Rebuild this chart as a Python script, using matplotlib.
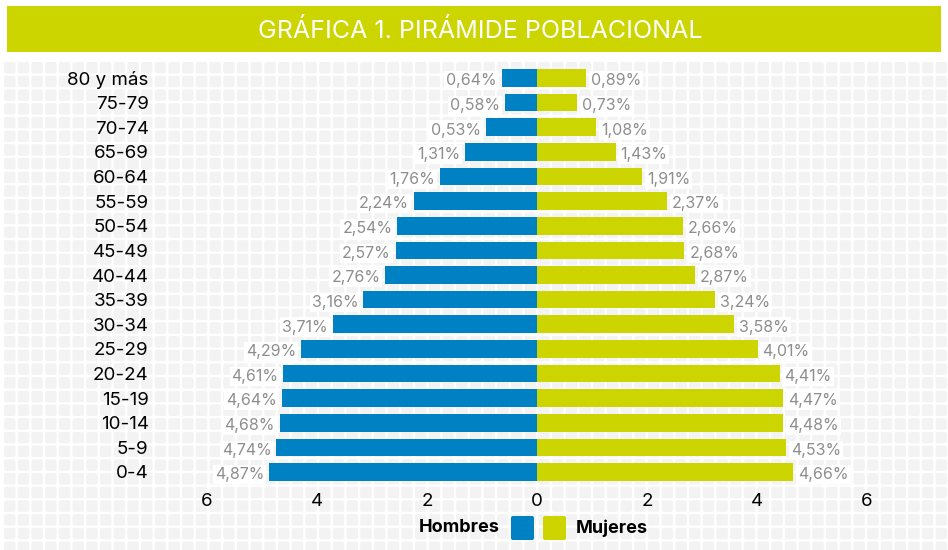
import matplotlib
matplotlib.use("Agg")
import matplotlib.pyplot as plt
from matplotlib.patches import FancyBboxPatch, Rectangle
from matplotlib.collections import PatchCollection

plt.rcParams['font.family'] = ['Inter', 'DejaVu Sans']

# ---- data ----
grupos = ["0-4", "5-9", "10-14", "15-19", "20-24", "25-29", "30-34", "35-39",
          "40-44", "45-49", "50-54", "55-59", "60-64", "65-69", "70-74", "75-79", "80 y más"]
# bar lengths as drawn in the picture
hombres = [4.87, 4.74, 4.68, 4.64, 4.61, 4.29, 3.71, 3.16,
           2.76, 2.57, 2.54, 2.24, 1.76, 1.31, 0.93, 0.58, 0.64]
mujeres = [4.66, 4.53, 4.48, 4.47, 4.41, 4.01, 3.58, 3.24,
           2.87, 2.68, 2.66, 2.37, 1.91, 1.43, 1.08, 0.73, 0.89]
# value labels as printed in the picture
etiquetas_hombres = ["4,87%", "4,74%", "4,68%", "4,64%", "4,61%", "4,29%", "3,71%", "3,16%",
                     "2,76%", "2,57%", "2,54%", "2,24%", "1,76%", "1,31%", "0,53%", "0,58%", "0,64%"]
etiquetas_mujeres = ["4,66%", "4,53%", "4,48%", "4,47%", "4,41%", "4,01%", "3,58%", "3,24%",
                     "2,87%", "2,68%", "2,66%", "2,37%", "1,91%", "1,43%", "1,08%", "0,73%", "0,89%"]
xticks = [-6, -4, -2, 0, 2, 4, 6]
xticklabels = ["6", "4", "2", "0", "2", "4", "6"]
titulo = "GRÁFICA 1. PIRÁMIDE POBLACIONAL"

AZUL = "#0081C3"
VERDE = "#CDD500"
GRIS = "#8E8E8E"

W, H = 948, 550
fig = plt.figure(figsize=(W / 100, H / 100), dpi=100)
fig.patch.set_facecolor("white")

def px(x0, y0, w, h):
    return [x0 / W, 1 - (y0 + h) / H, w / W, h / H]

# background grid of rounded squares
bg = fig.add_axes([0, 0, 1, 1], zorder=0)
bg.set_xlim(0, W)
bg.set_ylim(H, 0)
bg.axis("off")
squares = []
pitch = 13.7
size = 11.5
y = 62
while y < H:
    x = 4
    while x < W:
        squares.append(FancyBboxPatch((x + 2, y + 2), size - 4, size - 4,
                                      boxstyle="round,pad=2"))
        x += pitch
    y += pitch
bg.add_collection(PatchCollection(squares, facecolor="#F3F3F3", edgecolor="none"))

# title banner
bg.add_patch(Rectangle((7, 6), 934, 46, facecolor=VERDE, edgecolor="none"))
bg.text(480, 31, titulo, color="white", fontsize=18, ha="center", va="center")

# main axes
ax = fig.add_axes(px(207, 65.7, 660, 418.6), zorder=1)
ax.patch.set_alpha(0)
ypos = list(range(len(grupos)))
ax.barh(ypos, [-v for v in hombres], height=0.72, color=AZUL)
ax.barh(ypos, mujeres, height=0.72, color=VERDE)
ax.set_xlim(-6, 6)
ax.set_ylim(-0.5, len(grupos) - 0.5)
ax.set_xticks(xticks)
ax.set_xticklabels(xticklabels, fontsize=13.5)
ax.set_yticks(ypos)
ax.set_yticklabels(grupos, fontsize=13.5)
ax.tick_params(axis="both", length=0)
ax.tick_params(axis="y", pad=42)
ax.tick_params(axis="x", pad=6)
for s in ax.spines.values():
    s.set_visible(False)

box = dict(facecolor="white", edgecolor="none", pad=1.5)
for i in range(len(grupos)):
    ax.annotate(etiquetas_hombres[i], (-hombres[i], i), xytext=(-3.5, -2),
                textcoords="offset points", ha="right", va="center",
                fontsize=11.5, color=GRIS, bbox=box)
    ax.annotate(etiquetas_mujeres[i], (mujeres[i], i), xytext=(3.5, -2),
                textcoords="offset points", ha="left", va="center",
                fontsize=11.5, color=GRIS, bbox=box)

# legend
bg.text(500, 528, "Hombres", fontsize=13, fontweight="bold", ha="right", va="center")
bg.add_patch(FancyBboxPatch((513, 518), 19, 20, boxstyle="round,pad=2",
                            facecolor=AZUL, edgecolor="none"))
bg.add_patch(FancyBboxPatch((545, 518), 19, 20, boxstyle="round,pad=2",
                            facecolor=VERDE, edgecolor="none"))
bg.text(576, 528, "Mujeres", fontsize=13, fontweight="bold", ha="left", va="center")

fig.savefig("out.png", dpi=100)
